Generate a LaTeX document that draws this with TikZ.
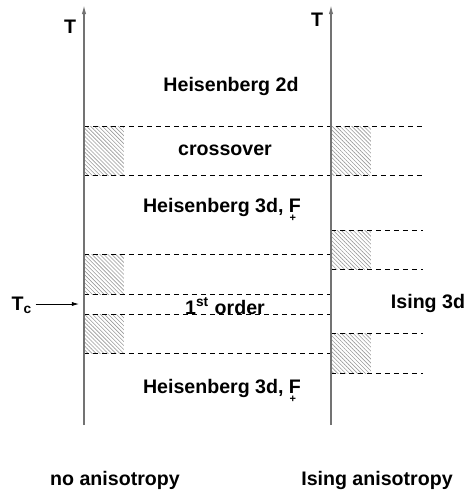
\documentclass[tikz,border=0pt]{standalone}
\usepackage{fontspec}
\setmainfont{Liberation Sans}
\usetikzlibrary{arrows.meta,patterns.meta}

\newcommand{\Fplus}{\rlap{\kern0.3pt\raisebox{-4.2pt}{\fontsize{5.5}{6}\selectfont +}}F}

\begin{document}
\begin{tikzpicture}[
  x=0.5pt, y=-0.5pt,
  every node/.style={font=\fontsize{9.8}{12}\selectfont\bfseries},
  axis/.style={line width=0.65pt, black!55, -{Latex[length=4.5pt,width=2.2pt]}},
  level/.style={line width=0.35pt, dash pattern=on 2.5pt off 2pt},
  hatch/.style={pattern={Lines[angle=-45,distance=1.4pt,line width=0.3pt]}, pattern color=black!40},
  tcarrow/.style={line width=0.4pt, -{Latex[length=3.5pt,width=2pt]}}
]
\useasboundingbox (0,0) rectangle (468,495);

% Hatched regions
\foreach \a/\b in {126/175, 254/294, 314/353}
  \fill[hatch] (84,\a) rectangle (124,\b);
\foreach \a/\b in {126/175, 230/269, 333/373}
  \fill[hatch] (331,\a) rectangle (371,\b);

% Levels
\foreach \y in {126, 175}
  \draw[level] (84,\y) -- (423,\y);
\foreach \y in {254, 294, 314, 353}
  \draw[level] (84,\y) -- (331,\y);
\foreach \y in {230, 269, 333, 373}
  \draw[level] (331,\y) -- (423,\y);

% Axes
\coordinate (L0) at (84,425);
\coordinate (L1) at (84,5);
\coordinate (R0) at (331,425);
\coordinate (R1) at (331,5);
\draw[axis] (L0) -- (L1);
\draw[axis] (R0) -- (R1);
\node (TL) at (70,27) {T};
\node (TR) at (317,20) {T};

% Regimes
\node (heis2) at (231,86) {Heisenberg 2d};
\node (cross) at (225,150) {crossover};
\node (heis3a) at (222,210) {Heisenberg 3d, \Fplus};
\node (first) at (225,306) {1\textsuperscript{st} order};
\node (ising) at (428,303) {Ising 3d};
\node (heis3b) at (222,391) {Heisenberg 3d, \Fplus};

% Tc
\node[inner sep=1.5pt] (Tc) at (22,305) {T\textsubscript{c}};
\coordinate (TcEnd) at (79,304);
\draw[tcarrow] (Tc.east |- TcEnd) -- (TcEnd);

% Cases
\node (noani) at (115,480) {no anisotropy};
\node (isani) at (377,480) {Ising anisotropy};
\end{tikzpicture}
\end{document}
